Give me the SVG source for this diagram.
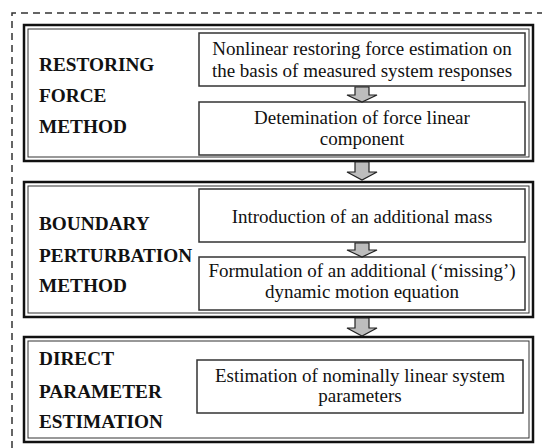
<svg xmlns="http://www.w3.org/2000/svg" width="542" height="448" viewBox="0 0 542 448">
<style>
.outer{fill:#fff;stroke:#111;stroke-width:2.5}
.outin{fill:none;stroke:#333;stroke-width:1}
.inner{fill:#fff;stroke:#333;stroke-width:1.5}
.lbl{font-family:'Liberation Serif',serif;font-weight:bold;font-size:19.3px;fill:#111}
.txt{font-family:'Liberation Serif',serif;font-size:19px;fill:#111;text-anchor:middle}
.arr{fill:#bdbdbd;stroke:#222;stroke-width:1.2;stroke-linejoin:miter}
.dash{fill:none;stroke:#333;stroke-width:1.5;stroke-dasharray:7 5}
</style>
<rect width="542" height="448" fill="#fff"/>
<path class="dash" d="M12,448 V13 H542"/>
<g id="restoring-force-method">
<rect class="outer" x="24" y="25" width="509" height="136"/>
<rect class="outin" x="28" y="29" width="501" height="128"/>
<text class="lbl" x="39" y="71">RESTORING</text>
<text class="lbl" x="39" y="102">FORCE</text>
<text class="lbl" x="39" y="133">METHOD</text>
</g>
<g id="nonlinear-estimation">
<rect class="inner" x="199" y="33" width="326" height="53"/>
<text class="txt" x="362" y="55">Nonlinear restoring force estimation on</text>
<text class="txt" x="362" y="77">the basis of measured system responses</text>
</g>
<g id="force-linear-component">
<rect class="inner" x="199" y="102" width="326" height="53"/>
<text class="txt" x="362" y="124">Detemination of force linear</text>
<text class="txt" x="362" y="145">component</text>
</g>
<g id="boundary-perturbation-method">
<rect class="outer" x="24" y="182" width="509" height="135"/>
<rect class="outin" x="28" y="186" width="501" height="127"/>
<text class="lbl" x="39" y="230">BOUNDARY</text>
<text class="lbl" x="39" y="262">PERTURBATION</text>
<text class="lbl" x="39" y="292">METHOD</text>
</g>
<g id="additional-mass">
<rect class="inner" x="199" y="189" width="326" height="53"/>
<text class="txt" x="362" y="223">Introduction of an additional mass</text>
</g>
<g id="missing-equation">
<rect class="inner" x="199" y="257" width="326" height="53"/>
<text class="txt" x="362" y="277">Formulation of an additional (&#8216;missing&#8217;)</text>
<text class="txt" x="362" y="298">dynamic motion equation</text>
</g>
<g id="direct-parameter-estimation">
<rect class="outer" x="24" y="337" width="509" height="105"/>
<rect class="outin" x="28" y="341" width="501" height="97"/>
<text class="lbl" x="39" y="365">DIRECT</text>
<text class="lbl" x="39" y="398">PARAMETER</text>
<text class="lbl" x="39" y="428">ESTIMATION</text>
</g>
<g id="linear-parameters">
<rect class="inner" x="197" y="360" width="326" height="53"/>
<text class="txt" x="360" y="382">Estimation of nominally linear system</text>
<text class="txt" x="360" y="402">parameters</text>
</g>
<g id="connectors">
<path class="arr" d="M355,87 H369 V95 H377 L362,102 L347,95 H355 Z"/>
<path class="arr" d="M355,162 H369 V172 H377 L362,180 L347,172 H355 Z"/>
<path class="arr" d="M355,243 H369 V250 H377 L362,257 L347,250 H355 Z"/>
<path class="arr" d="M355,318 H369 V328 H377 L362,336 L347,328 H355 Z"/>
</g>
</svg>
